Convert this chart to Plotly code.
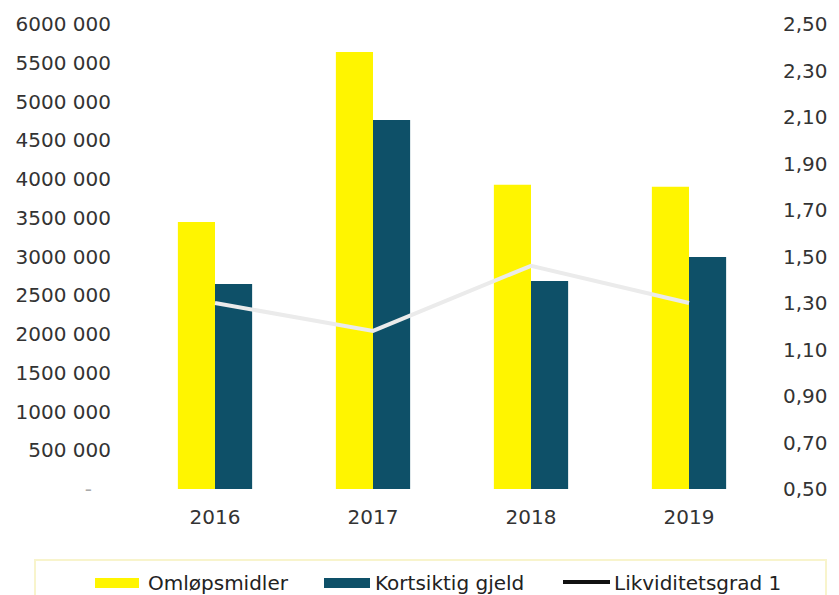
import plotly.graph_objects as go

years = ["2016", "2017", "2018", "2019"]
omlopsmidler = [3445000, 5640000, 3925000, 3900000]
kortsiktig_gjeld = [2645000, 4760000, 2685000, 2995000]
likviditetsgrad = [1.30, 1.18, 1.46, 1.30]

NB = "\u00a0"
left_tickvals = [0, 500000, 1000000, 1500000, 2000000, 2500000, 3000000,
                 3500000, 4000000, 4500000, 5000000, 5500000, 6000000]
left_ticktext = ["<span style='color:#AAAAAA'>-</span>" + NB * 3, "500 000", "1000 000",
                 "1500 000", "2000 000", "2500 000", "3000 000", "3500 000",
                 "4000 000", "4500 000", "5000 000", "5500 000", "6000 000"]
right_tickvals = [0.5, 0.7, 0.9, 1.1, 1.3, 1.5, 1.7, 1.9, 2.1, 2.3, 2.5]
right_ticktext = ["0,50", "0,70", "0,90", "1,10", "1,30", "1,50", "1,70",
                  "1,90", "2,10", "2,30", "2,50"]

YELLOW = "#FFF500"
BLUE = "#0E5068"
FONT = "DejaVu Sans"
TXT = "#333333"

fig = go.Figure()
fig.add_trace(go.Bar(x=years, y=omlopsmidler, name="Omløpsmidler",
                     marker=dict(color=YELLOW, line=dict(width=0))))
fig.add_trace(go.Bar(x=years, y=kortsiktig_gjeld, name="Kortsiktig gjeld",
                     marker=dict(color=BLUE, line=dict(width=0))))
fig.add_trace(go.Scatter(x=years, y=likviditetsgrad, name="Likviditetsgrad 1",
                         yaxis="y2", mode="lines",
                         line=dict(color="#EBEBEB", width=4)))

fig.update_layout(
    width=839, height=595,
    margin=dict(l=136, r=71, t=24, b=106),
    paper_bgcolor="white", plot_bgcolor="white",
    barmode="group", bargap=0.53, bargroupgap=0,
    showlegend=False,
    font=dict(family=FONT, size=20, color=TXT),
    xaxis=dict(type="category", showgrid=False, showline=False, zeroline=False,
               ticks="", ticklabelstandoff=14,
               tickfont=dict(family=FONT, size=20, color=TXT)),
    yaxis=dict(range=[0, 6000000], tickvals=left_tickvals, ticktext=left_ticktext,
               showgrid=False, showline=False, zeroline=False, ticks="",
               ticklabelstandoff=24,
               tickfont=dict(family=FONT, size=20, color=TXT)),
    yaxis2=dict(range=[0.5, 2.5], tickvals=right_tickvals, ticktext=right_ticktext,
                overlaying="y", side="right", showgrid=False, showline=False,
                zeroline=False, ticks="", ticklabelstandoff=14,
                tickfont=dict(family=FONT, size=20, color=TXT)),
)

# custom legend (pixel positions converted to paper coordinates)
pw = 839 - 136 - 71
ph = 595 - 24 - 106
def px(xpix):
    return (xpix - 136) / pw
def py(ypix):
    return (489 - ypix) / ph

shapes = [
    dict(type="rect", xref="paper", yref="paper", x0=px(35), x1=px(826),
         y0=py(560), y1=py(600), line=dict(color="#F8F4CC", width=2)),
    dict(type="rect", xref="paper", yref="paper", x0=px(95), x1=px(139),
         y0=py(578), y1=py(588), line=dict(width=0), fillcolor=YELLOW),
    dict(type="rect", xref="paper", yref="paper", x0=px(324), x1=px(370),
         y0=py(578), y1=py(588), line=dict(width=0), fillcolor=BLUE),
    dict(type="line", xref="paper", yref="paper", x0=px(563), x1=px(610),
         y0=py(582), y1=py(582), line=dict(color="#111111", width=4)),
]
annotations = []
for label, xs in [("Omløpsmidler", 146), ("Kortsiktig gjeld", 373), ("Likviditetsgrad 1", 612)]:
    annotations.append(dict(text=label, xref="paper", yref="paper", x=px(xs), y=py(583),
                            xanchor="left", yanchor="middle", showarrow=False,
                            font=dict(family=FONT, size=20, color="#222222")))
fig.update_layout(shapes=shapes, annotations=annotations)

fig.write_html("out.html")
